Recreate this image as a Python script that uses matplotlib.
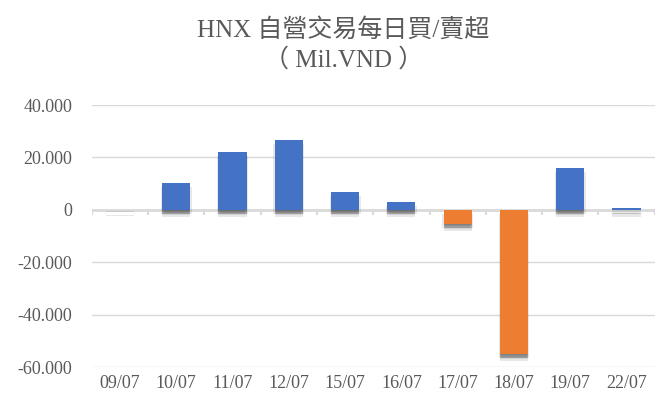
import matplotlib
matplotlib.use("Agg")
import matplotlib.pyplot as plt
import matplotlib.patheffects as pe
from matplotlib.ticker import FuncFormatter

categories = ["09/07", "10/07", "11/07", "12/07", "15/07", "16/07", "17/07", "18/07", "19/07", "22/07"]
values = [-200, 10300, 22200, 26800, 6900, 3000, -5300, -55000, 16000, 500]
y_ticks = [-60000, -40000, -20000, 0, 20000, 40000]

plt.rcParams['font.family'] = ['Liberation Serif', 'Noto Sans CJK TC', 'DejaVu Sans']
gray = "#595959"

fig = plt.figure(figsize=(6.6, 4.0), dpi=100)
ax = fig.add_axes([0.139, 0.0825, 0.853, 0.655])

colors = ["#4472C4" if v >= 0 else "#ED7D31" for v in values]
x = list(range(len(categories)))
bars = ax.bar(x, values, width=0.5, color=colors, zorder=3)
shadow = []
for dx, dy in [(0, -1), (0, -2), (0, -3), (0, -4), (-1, -3), (1, -3), (0, -5)]:
    shadow.append(pe.SimplePatchShadow(offset=(dx, dy), alpha=0.09, shadow_rgbFace="#000000"))
for b in bars:
    b.set_path_effects(shadow + [pe.Normal()])

ax.set_ylim(-60000, 40000)
ax.set_xlim(-0.5, len(categories) - 0.5)
ax.set_yticks(y_ticks)
ax.yaxis.set_major_formatter(FuncFormatter(lambda v, p: "0" if v == 0 else f"{int(v):,}".replace(",", ".")))
for t in y_ticks:
    if t != 0:
        ax.axhline(t, color="#D9D9D9", lw=1, zorder=1)
ax.axhline(0, color="#D9D9D9", lw=2, zorder=2)

for i in range(len(categories) + 1):
    ax.plot([i - 0.5, i - 0.5], [0, -1700], color="#D9D9D9", lw=1.5, zorder=2)

for s in ax.spines.values():
    s.set_visible(False)
ax.tick_params(axis="both", length=0, labelsize=13, colors=gray, pad=6)
ax.set_xticks(x)
ax.set_xticklabels(categories)
ax.tick_params(axis="y", pad=14)

fig.text(0.52, 0.925, "HNX 自營交易每日買/賣超", ha="center", va="center", fontsize=18, color=gray)
fig.text(0.52, 0.85, "（ Mil.VND ）", ha="center", va="center", fontsize=18, color=gray)

fig.savefig("out.png", dpi=100)
